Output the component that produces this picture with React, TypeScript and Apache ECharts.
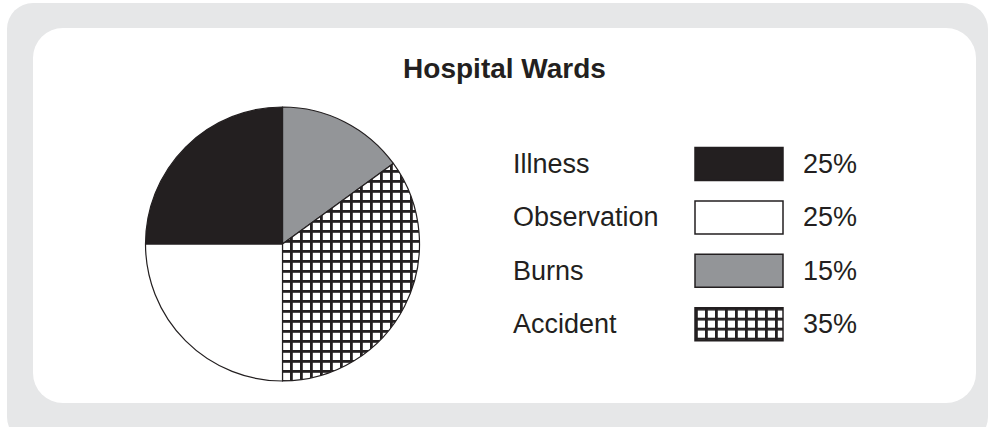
import React, { useEffect, useRef } from "react";
import * as echarts from "echarts";

const title = "Hospital Wards";
const categories = ["Illness", "Observation", "Burns", "Accident"];
const shares = [25, 25, 15, 35];
const pieOrder = ["Burns", "Accident", "Observation", "Illness"];

const INK = "#231f20";
const hatchSvg =
  "<svg xmlns='http://www.w3.org/2000/svg' width='10' height='10'>" +
  "<rect width='10' height='10' fill='#ffffff'/>" +
  "<rect x='0' y='0' width='2.8' height='10' fill='#231f20'/>" +
  "<rect x='0' y='0' width='10' height='2.8' fill='#231f20'/></svg>";
const hatch: any = {
  image: "data:image/svg+xml;charset=utf-8," + encodeURIComponent(hatchSvg),
  repeat: "repeat",
  imageWidth: 10,
  imageHeight: 10,
};
const fills: Record<string, any> = {
  Illness: INK,
  Observation: "#ffffff",
  Burns: "#939598",
  Accident: hatch,
};

export default function App() {
  const ref = useRef<HTMLDivElement>(null);
  useEffect(() => {
    document.body.style.margin = "0";
    if (!ref.current) return;
    const chart = echarts.init(ref.current, null, { renderer: "svg" });
    const font = "'Liberation Sans', Arial, Helvetica, sans-serif";
    const legendEls: any[] = [];
    categories.forEach((name, i) => {
      const cy = 164 + i * 53.4;
      legendEls.push({
        type: "text",
        x: 513,
        y: cy,
        z: 10,
        style: { text: name, fill: INK, font: `27px ${font}`, textVerticalAlign: "middle", textAlign: "left" },
      });
      legendEls.push({
        type: "rect",
        x: 695,
        y: cy - 16.5,
        z: 10,
        shape: { width: 88, height: 33 },
        style: { fill: fills[name], stroke: INK, lineWidth: 1.5 },
      });
      legendEls.push({
        type: "text",
        x: 803,
        y: cy,
        z: 10,
        style: { text: shares[i] + "%", fill: INK, font: `27px ${font}`, textVerticalAlign: "middle", textAlign: "left" },
      });
    });
    chart.setOption({
      animation: false,
      graphic: [
        { type: "rect", x: 7, y: 3, z: 0, shape: { width: 981, height: 440, r: 26 }, style: { fill: "#e6e7e8" } },
        { type: "rect", x: 33, y: 28, z: 1, shape: { width: 943, height: 375, r: 30 }, style: { fill: "#ffffff" } },
        {
          type: "text",
          x: 504.5,
          y: 68,
          z: 10,
          style: { text: title, fill: INK, font: `bold 28px ${font}`, textAlign: "center", textVerticalAlign: "middle" },
        },
        ...legendEls,
      ],
      series: [
        {
          type: "pie",
          z: 5,
          center: [282.5, 244],
          radius: 137,
          startAngle: 90,
          clockwise: true,
          silent: true,
          label: { show: false },
          labelLine: { show: false },
          emphasis: { disabled: true },
          itemStyle: { borderColor: INK, borderWidth: 1.2 },
          data: pieOrder.map((n) => ({
            name: n,
            value: shares[categories.indexOf(n)],
            itemStyle: { color: fills[n] },
          })),
        },
      ],
    });
    return () => chart.dispose();
  }, []);
  return <div ref={ref} style={{ width: 989, height: 427 }} />;
}
